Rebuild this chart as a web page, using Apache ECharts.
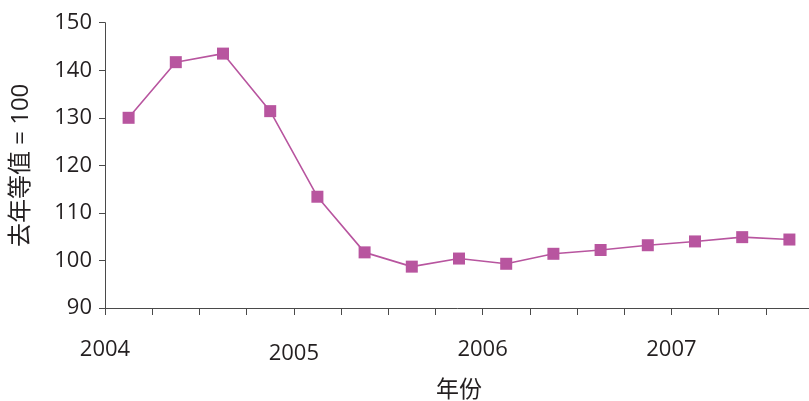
<!DOCTYPE html>
<html>
<head>
<meta charset="utf-8">
<script src="https://cdn.jsdelivr.net/npm/echarts@6/dist/echarts.min.js"></script>
<style>
  html, body { margin: 0; padding: 0; background: #fff; }
  #chart { width: 809px; height: 401px; }
</style>
</head>
<body>
<div id="chart"></div>
<script>
// Quarterly index, same quarter of previous year = 100
const quarters = [
  '2004Q1', '2004Q2', '2004Q3', '2004Q4',
  '2005Q1', '2005Q2', '2005Q3', '2005Q4',
  '2006Q1', '2006Q2', '2006Q3', '2006Q4',
  '2007Q1', '2007Q2', '2007Q3'
];
const indexValues = [
  130.0, 141.7, 143.5, 131.4,
  113.4, 101.7, 98.7, 100.4,
  99.3, 101.4, 102.2, 103.2,
  104.0, 104.9, 104.4
];
const yearLabels = ['2004', '2005', '2006', '2007'];
const yTicks = [90, 100, 110, 120, 130, 140, 150];

const textColor = '#231f20';
const axisColor = '#4a4a4a';
const lineColor = '#b8559f';
const font = '"Open Sans", "Noto Sans CJK SC", sans-serif';

const chart = echarts.init(document.getElementById('chart'));
chart.setOption({
  animation: false,
  backgroundColor: '#ffffff',
  grid: {
    left: 105, right: -4, top: 22.7, bottom: 93,
    containLabel: false, outerBoundsMode: 'none'
  },
  xAxis: [
    {
      type: 'category',
      data: quarters,
      boundaryGap: true,
      axisLine: { lineStyle: { color: axisColor, width: 1 } },
      axisTick: { show: true, interval: 0, length: 7, lineStyle: { color: axisColor } },
      axisLabel: { show: false },
      splitLine: { show: false }
    },
    {
      // year marks sit on the quarter boundaries
      type: 'value',
      position: 'bottom',
      min: 0,
      max: quarters.length,
      interval: 1,
      axisLine: { show: false },
      axisTick: { show: false },
      splitLine: { show: false },
      axisLabel: {
        margin: 31,
        color: textColor,
        fontFamily: font,
        fontSize: 22,
        showMinLabel: true,
        showMaxLabel: false,
        formatter: v => {
          const y = (v % 4 === 0) ? yearLabels[v / 4] : undefined;
          if (!y) return '';
          return v === 4 ? '{low|' + y + '}' : y;
        },
        rich: {
          low: { color: textColor, fontFamily: font, fontSize: 22, padding: [4, 0, 0, 0] }
        }
      },
      name: '年份',
      nameLocation: 'middle',
      nameGap: 71,
      nameTextStyle: { color: textColor, fontFamily: font, fontSize: 23 }
    }
  ],
  yAxis: {
    type: 'value',
    min: yTicks[0],
    max: yTicks[yTicks.length - 1],
    interval: 10,
    axisLine: { show: true, lineStyle: { color: axisColor, width: 1 } },
    axisTick: { show: true, length: 6, lineStyle: { color: axisColor } },
    splitLine: { show: false },
    axisLabel: {
      margin: 13,
      color: textColor,
      fontFamily: font,
      fontSize: 22
    },
    name: '去年等值 = 100',
    nameLocation: 'middle',
    nameRotate: 90,
    nameGap: 72,
    nameTextStyle: { color: textColor, fontFamily: font, fontSize: 24 }
  },
  series: [{
    type: 'line',
    xAxisIndex: 0,
    data: indexValues,
    symbol: 'rect',
    symbolSize: 12,
    lineStyle: { color: lineColor, width: 1.6 },
    itemStyle: { color: lineColor },
    label: { show: false }
  }]
});
</script>
</body>
</html>
